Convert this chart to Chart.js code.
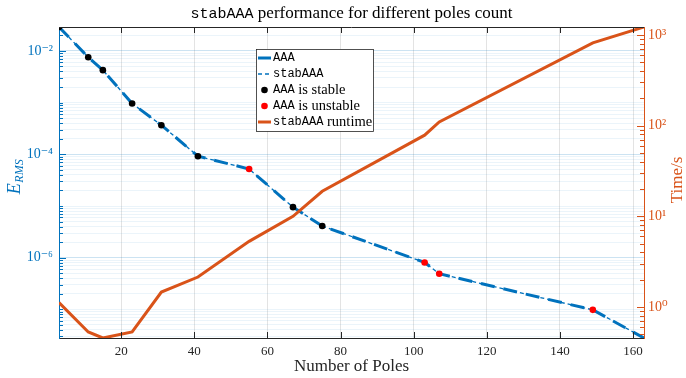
<!DOCTYPE html>
<html>
<head>
<meta charset="utf-8">
<script src="https://cdn.jsdelivr.net/npm/chart.js@4"></script>
<style>
html,body{margin:0;padding:0;background:#fff;}
canvas{display:block;}
</style>
</head>
<body>
<canvas id="c" width="686" height="378"></canvas>
<script>
// ---- data ----
const poles   = [3, 11, 15, 23, 31, 41, 55, 67, 75, 103, 107, 149, 163];
const errAAA  = [2.9e-2, 7.55e-3, 4.24e-3, 9.6e-4, 3.66e-4, 9.2e-5, 5.2e-5, 9.5e-6, 4.1e-6, 8.1e-7, 4.9e-7, 9.8e-8, 2.8e-8];
const errStab = [2.9e-2, 7.55e-3, 4.24e-3, 9.6e-4, 3.66e-4, 9.2e-5, 5.2e-5, 9.5e-6, 4.1e-6, 8.1e-7, 4.9e-7, 9.8e-8, 2.8e-8];
const stable  = [true, true, true, true, true, true, false, true, true, false, false, false, null];
const runtime = [1.12, 0.53, 0.455, 0.53, 1.46, 2.14, 5.3, 10.0, 18.9, 78.5, 110, 820, 1225];
const xTicks  = [20, 40, 60, 80, 100, 120, 140, 160];
const leftLabelDecades  = [-2, -4, -6];
const rightLabelDecades = [0, 1, 2, 3];

const BLUE = '#0072BD', ORANGE = '#D95319', AX = '#262626';
const SERIF = "'Liberation Serif','DejaVu Serif',serif";
const MONO  = "'Liberation Mono','DejaVu Sans Mono',monospace";

const SUP = {'0':'⁰','1':'¹','2':'²','3':'³','4':'⁴','5':'⁵','6':'⁶','7':'⁷','8':'⁸','9':'⁹','-':'⁻'};
const pow10Label = e => '10' + String(e).split('').map(c => SUP[c]).join('');

function logTicks(min, max) {
  const out = [];
  for (let e = Math.floor(Math.log10(min)); e <= Math.ceil(Math.log10(max)); e++) {
    for (let k = 1; k <= 9; k++) {
      const v = k * Math.pow(10, e);
      if (v >= min * 0.9999 && v <= max * 1.0001) out.push({value: v, dec: k === 1 ? e : null});
    }
  }
  return out;
}

const pts = (xs, ys) => xs.map((x, i) => ({x: x, y: ys[i]}));

const yMin = Math.min(...errAAA), yMax = Math.max(...errAAA);
const rMin = Math.min(...runtime), rMax = Math.max(...runtime);
const xMin = Math.min(...poles), xMax = Math.max(...poles);

const decor = {
  id: 'decor',
  afterDraw(chart) {
    const c = chart.ctx, a = chart.chartArea;
    const sx = chart.scales.x, sy = chart.scales.y, sr = chart.scales.y2;
    c.save();
    // top box line
    c.strokeStyle = AX; c.lineWidth = 1;
    c.beginPath(); c.moveTo(a.left, a.top + 0.5); c.lineTo(a.right, a.top + 0.5); c.stroke();
    // x ticks (inward, bottom and top)
    c.beginPath();
    sx.ticks.forEach(t => {
      const x = Math.round(sx.getPixelForValue(t.value)) + 0.5;
      c.moveTo(x, a.bottom); c.lineTo(x, a.bottom - 6);
      c.moveTo(x, a.top); c.lineTo(x, a.top + 6);
    });
    c.stroke();
    // left ticks
    c.strokeStyle = BLUE;
    c.beginPath();
    sy.ticks.forEach(t => {
      const y = Math.round(sy.getPixelForValue(t.value)) + 0.5;
      const len = (t.dec !== null && t.dec % 2 === 0) ? 7 : 4;
      c.moveTo(a.left, y); c.lineTo(a.left + len, y);
    });
    c.stroke();
    // right ticks
    c.strokeStyle = ORANGE;
    c.beginPath();
    sr.ticks.forEach(t => {
      const y = Math.round(sr.getPixelForValue(t.value)) + 0.5;
      const len = t.dec !== null ? 7 : 4;
      c.moveTo(a.right, y); c.lineTo(a.right - len, y);
    });
    c.stroke();

    // title (mixed fonts)
    const t1 = 'stabAAA', t2 = ' performance for different poles count';
    c.font = '15px ' + MONO; const w1 = c.measureText(t1).width;
    c.font = '17px ' + SERIF; const w2 = c.measureText(t2).width;
    let tx = (a.left + a.right) / 2 - (w1 + w2) / 2;
    c.fillStyle = '#000'; c.textBaseline = 'alphabetic'; c.textAlign = 'left';
    c.font = '15px ' + MONO; c.fillText(t1, tx, 18);
    c.font = '17px ' + SERIF; c.fillText(t2, tx + w1, 18);

    // x axis title
    c.font = '17px ' + SERIF; c.fillStyle = AX; c.textAlign = 'center'; c.textBaseline = 'middle';
    c.fillText('Number of Poles', (a.left + a.right) / 2, 367);

    // left axis title E_RMS
    c.save();
    c.translate(14, 177); c.rotate(-Math.PI / 2);
    c.fillStyle = BLUE; c.textAlign = 'left'; c.textBaseline = 'alphabetic';
    c.font = 'italic 18px ' + SERIF; const wE = c.measureText('E').width;
    c.font = 'italic 12px ' + SERIF; const wR = c.measureText('RMS').width;
    const x0 = -(wE + wR) / 2;
    c.font = 'italic 18px ' + SERIF; c.fillText('E', x0, 6);
    c.font = 'italic 12px ' + SERIF; c.fillText('RMS', x0 + wE + 0.5, 9);
    c.restore();

    // right axis title
    c.save();
    c.translate(678, 180); c.rotate(-Math.PI / 2);
    c.fillStyle = ORANGE; c.textAlign = 'center'; c.textBaseline = 'middle';
    c.font = '17px ' + SERIF; c.fillText('Time/s', 0, 0);
    c.restore();

    // legend
    const lx = 256, ly = 49, lw = 117, lh = 82;
    c.fillStyle = '#fff'; c.fillRect(lx, ly, lw, lh);
    c.strokeStyle = AX; c.lineWidth = 0.8; c.strokeRect(lx + 0.5, ly + 0.5, lw, lh);
    const rows = [58, 74, 90, 106, 122];
    const tx0 = 273;
    c.lineWidth = 3; c.strokeStyle = BLUE; c.setLineDash([]);
    c.beginPath(); c.moveTo(258, rows[0]); c.lineTo(271, rows[0]); c.stroke();
    c.lineWidth = 1.3; c.setLineDash([4, 3]);
    c.beginPath(); c.moveTo(258, rows[1]); c.lineTo(271, rows[1]); c.stroke();
    c.setLineDash([]);
    c.fillStyle = '#000'; c.beginPath(); c.arc(264.5, rows[2], 3.3, 0, 2 * Math.PI); c.fill();
    c.fillStyle = '#FF0000'; c.beginPath(); c.arc(264.5, rows[3], 3.3, 0, 2 * Math.PI); c.fill();
    c.lineWidth = 3; c.strokeStyle = ORANGE;
    c.beginPath(); c.moveTo(258, rows[4]); c.lineTo(271, rows[4]); c.stroke();
    const legTexts = [['AAA', ''], ['stabAAA', ''], ['AAA', ' is stable'], ['AAA', ' is unstable'], ['stabAAA', ' runtime']];
    c.fillStyle = '#000'; c.textAlign = 'left'; c.textBaseline = 'middle';
    legTexts.forEach((p, i) => {
      c.font = '12px ' + MONO; c.fillText(p[0], tx0, rows[i]);
      const wm = c.measureText(p[0]).width;
      if (p[1]) { c.font = '14.5px ' + SERIF; c.fillText(p[1], tx0 + wm, rows[i] + 0.5); }
    });
    c.restore();
  }
};

new Chart(document.getElementById('c'), {
  type: 'line',
  data: {
    datasets: [
      { label: 'AAA is stable / unstable', data: pts(poles, errAAA), yAxisID: 'y', showLine: false,
        pointRadius: stable.map(s => s === null ? 0 : 3.3),
        pointBackgroundColor: stable.map(s => s ? '#000000' : '#FF0000'),
        pointBorderWidth: 0, clip: 0, order: 0 },
      { label: 'stabAAA runtime', data: pts(poles, runtime), yAxisID: 'y2', borderColor: ORANGE, borderWidth: 3,
        pointRadius: 0, tension: 0, clip: 0, order: 1 },
      { label: 'stabAAA', data: pts(poles, errStab), yAxisID: 'y', borderColor: BLUE, borderWidth: 1.3,
        borderDash: [4, 3], pointRadius: 0, tension: 0, clip: 0, order: 2 },
      { label: 'AAA', data: pts(poles, errAAA), yAxisID: 'y', borderColor: BLUE, borderWidth: 3,
        borderDash: [14, 9], pointRadius: 0, tension: 0, clip: 0, order: 3 }
    ]
  },
  options: {
    responsive: false, animation: false, devicePixelRatio: 1,
    layout: { padding: { top: 27, left: 0, right: 0, bottom: 0 } },
    plugins: { legend: { display: false }, title: { display: false }, tooltip: { enabled: false } },
    scales: {
      x: {
        type: 'linear', min: xMin, max: xMax,
        afterBuildTicks: s => { s.ticks = xTicks.map(v => ({ value: v })); },
        afterFit: s => { s.height = 40; },
        grid: { color: 'rgba(0,0,0,0.11)', drawTicks: false },
        border: { color: AX, width: 1 },
        ticks: { font: { family: SERIF, size: 13 }, color: AX, padding: 6, maxRotation: 0, autoSkip: false }
      },
      y: {
        type: 'logarithmic', position: 'left', min: yMin, max: yMax,
        afterBuildTicks: s => { s.ticks = logTicks(yMin, yMax); },
        afterFit: s => { s.width = 59; },
        grid: { drawTicks: false,
          color: c => (c.tick && c.tick.dec !== null && c.tick.dec % 2 === 0) ? 'rgba(0,114,189,0.2)' : 'rgba(0,114,189,0.08)' },
        border: { color: BLUE, width: 1 },
        ticks: { font: { family: SERIF, size: 14 }, color: BLUE, padding: 6, autoSkip: false,
          callback: (v, i, ts) => (ts[i].dec !== null && leftLabelDecades.includes(ts[i].dec)) ? pow10Label(ts[i].dec) : '' }
      },
      y2: {
        type: 'logarithmic', position: 'right', min: rMin, max: rMax,
        afterBuildTicks: s => { s.ticks = logTicks(rMin, rMax); },
        afterFit: s => { s.width = 42; },
        grid: { drawTicks: false, drawOnChartArea: false },
        border: { color: ORANGE, width: 1 },
        ticks: { font: { family: SERIF, size: 14 }, color: ORANGE, padding: 4, autoSkip: false,
          callback: (v, i, ts) => (ts[i].dec !== null && rightLabelDecades.includes(ts[i].dec)) ? pow10Label(ts[i].dec) : '' }
      }
    }
  },
  plugins: [decor]
});
</script>
</body>
</html>
